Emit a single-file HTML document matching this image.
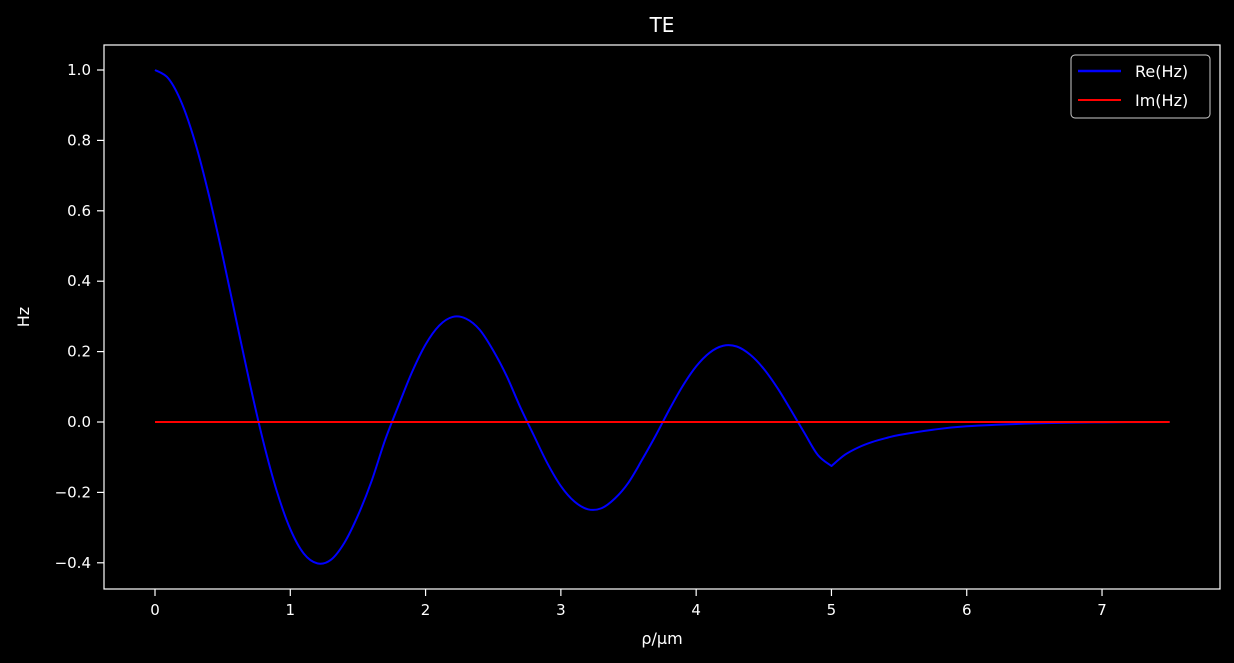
<!DOCTYPE html>
<html><head><meta charset="utf-8"><style>
html,body{margin:0;padding:0;background:#000;}
svg{display:block;font-family:"DejaVu Sans","Liberation Sans",sans-serif;}
</style></head><body>
<svg id="chart" width="1234" height="663">
<rect width="1234" height="663" fill="#000"/>
<text x="662" y="32" fill="#fff" font-size="20" text-anchor="middle">TE</text>
<g id="ticks"></g>
<g id="series"></g>
<rect x="104" y="45" width="1116" height="544" fill="none" stroke="#fff" stroke-width="1.2"/>
<text x="662" y="644" fill="#fff" font-size="16" text-anchor="middle">ρ/μm</text>
<text x="29" y="317" fill="#fff" font-size="16" text-anchor="middle" transform="rotate(-90 29 317)">Hz</text>
<g>
<rect x="1071" y="55" width="139" height="63" rx="4" fill="#000" stroke="#ccc" stroke-width="1"/>
<line x1="1078" y1="71" x2="1121" y2="71" stroke="#0000ff" stroke-width="2.5"/>
<text x="1135" y="77" fill="#fff" font-size="16">Re(Hz)</text>
<line x1="1078" y1="100" x2="1121" y2="100" stroke="#ff0000" stroke-width="2"/>
<text x="1135" y="106" fill="#fff" font-size="16">Im(Hz)</text>
</g>
</svg>
<script>
const rho = [0,0.1,0.2,0.3,0.4,0.5,0.6,0.7,0.8,0.9,1.0,1.1,1.2,1.3,1.4,1.5,1.6,1.7,1.8,1.9,2.0,2.1,2.2,2.3,2.4,2.5,2.6,2.7,2.8,2.9,3.0,3.1,3.2,3.3,3.4,3.5,3.6,3.7,3.8,3.9,4.0,4.1,4.2,4.3,4.4,4.5,4.6,4.7,4.8,4.9,5.0,5.1,5.2,5.3,5.4,5.5,5.75,6.0,6.5,7.0,7.5];
const reHz = [1,0.9755,0.9038,0.79,0.642,0.472,0.2905,0.1108,-0.0549,-0.196,-0.3042,-0.374,-0.4016,-0.3915,-0.343,-0.2655,-0.1688,-0.052,0.0469,0.142,0.2203,0.2737,0.2984,0.2934,0.262,0.203,0.13,0.042,-0.038,-0.117,-0.182,-0.226,-0.248,-0.245,-0.217,-0.172,-0.1074,-0.039,0.034,0.102,0.158,0.197,0.2166,0.2145,0.191,0.151,0.097,0.034,-0.031,-0.094,-0.125,-0.093,-0.072,-0.057,-0.046,-0.037,-0.022,-0.012,-0.004,-0.001,0];
const imHz = rho.map(()=>0);
const xTicks = [0,1,2,3,4,5,6,7];
const yTicks = [-0.4,-0.2,0.0,0.2,0.4,0.6,0.8,1.0];
const kinkRho = 5;
const NS="http://www.w3.org/2000/svg";
const X = v => 155 + v*135.29;
const Y = v => 422 - v*352;
const tg=document.getElementById('ticks'), sg=document.getElementById('series');
function mk(tag,at,parent){const e=document.createElementNS(NS,tag);for(const k in at)e.setAttribute(k,at[k]);parent.appendChild(e);return e;}
xTicks.forEach(t=>{
  const l=mk('line',{x1:X(t),x2:X(t),y1:589,y2:596,stroke:'#fff','stroke-width':1.2},tg);
  
  
  const s=mk('text',{x:X(t),y:615,fill:'#fff','font-size':15,'text-anchor':'middle'},tg);
  s.textContent=t;
  
  
});
yTicks.forEach(t=>{
  const l=mk('line',{x1:97,x2:104,y1:Y(t),y2:Y(t),stroke:'#fff','stroke-width':1.2},tg);
  
  
  const s=mk('text',{x:91,y:Y(t)+5,fill:'#fff','font-size':15,'text-anchor':'end'},tg);
  s.textContent=(t<0?'\u2212':'')+Math.abs(t).toFixed(1);
  
  
});
function smooth(pts){
  let d='M'+pts[0][0]+','+pts[0][1];
  for(let i=0;i<pts.length-1;i++){
    const p0=pts[Math.max(0,i-1)],p1=pts[i],p2=pts[i+1],p3=pts[Math.min(pts.length-1,i+2)];
    const c1=[p1[0]+(p2[0]-p0[0])/6,p1[1]+(p2[1]-p0[1])/6];
    const c2=[p2[0]-(p3[0]-p1[0])/6,p2[1]-(p3[1]-p1[1])/6];
    d+=' C'+c1[0]+','+c1[1]+' '+c2[0]+','+c2[1]+' '+p2[0]+','+p2[1];
  }
  return d;
}
const pts=rho.map((r,i)=>[X(r),Y(reHz[i])]);
const k=rho.indexOf(kinkRho);
const d=smooth(pts.slice(0,k+1))+' '+smooth(pts.slice(k)).replace('M','L');
const re=mk('path',{d:d,fill:'none',stroke:'#0000ff','stroke-width':2,'stroke-linejoin':'round'},sg);


const im=mk('polyline',{points:rho.map((r,i)=>X(r)+','+Y(imHz[i])).join(' '),fill:'none',stroke:'#ff0000','stroke-width':2},sg);


</script>
</body></html>
